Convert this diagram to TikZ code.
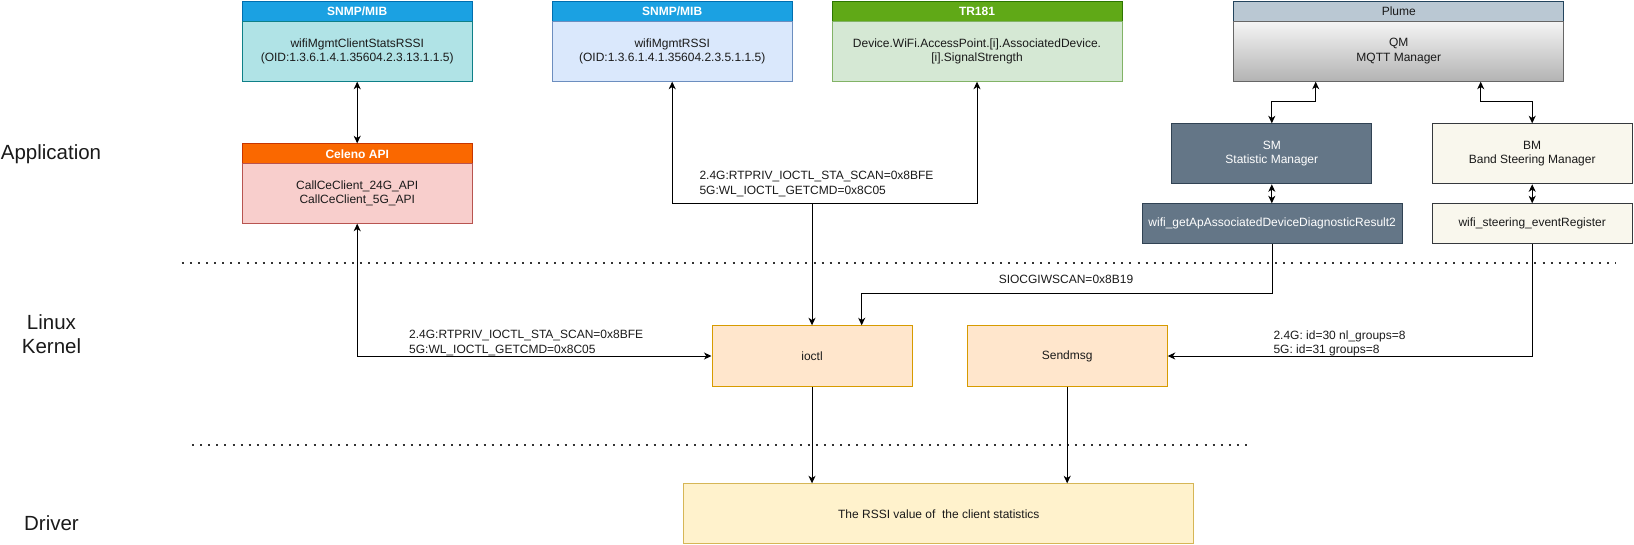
\documentclass[tikz,border=0pt]{standalone}
\usepackage{fontspec}
\setmainfont{Liberation Sans}
\usetikzlibrary{arrows.meta}
\definecolor{hBlueF}{HTML}{1BA1E2}\definecolor{hBlueD}{HTML}{006EAF}
\definecolor{tealF}{HTML}{B0E3E6}\definecolor{tealD}{HTML}{0E8088}
\definecolor{lblueF}{HTML}{DAE8FC}\definecolor{lblueD}{HTML}{6C8EBF}
\definecolor{hGreenF}{HTML}{60A917}\definecolor{hGreenD}{HTML}{2D7600}
\definecolor{lgreenF}{HTML}{D5E8D4}\definecolor{lgreenD}{HTML}{82B366}
\definecolor{plumeF}{HTML}{BAC8D3}\definecolor{plumeD}{HTML}{23445D}
\definecolor{qmTop}{HTML}{F5F5F5}\definecolor{qmBot}{HTML}{B3B3B3}\definecolor{qmD}{HTML}{666666}
\definecolor{hOrF}{HTML}{FA6800}\definecolor{hOrD}{HTML}{C73500}
\definecolor{redF}{HTML}{F8CECC}\definecolor{redD}{HTML}{B85450}
\definecolor{smF}{HTML}{647687}\definecolor{smD}{HTML}{314354}
\definecolor{bmF}{HTML}{F9F7ED}\definecolor{bmD}{HTML}{36393D}
\definecolor{ioF}{HTML}{FFE6CC}\definecolor{ioD}{HTML}{D79B00}
\definecolor{rsF}{HTML}{FFF2CC}\definecolor{rsD}{HTML}{D6B656}
\definecolor{txt}{HTML}{1A1A1A}
\newcommand\fsm{\fontsize{12}{14.4}\selectfont}
\newcommand\flg{\fontsize{20.5}{24.6}\selectfont}
\tikzset{
  box/.style={draw, line width=1pt, inner sep=0pt, anchor=north west, align=center, font=\fsm, text=txt},
  hdr/.style={box, text=white, font=\fsm\bfseries},
  lbl/.style={inner sep=0pt, align=left, font=\fsm, text=txt},
  layer/.style={inner sep=0pt, align=center, font=\flg, text=txt},
  conn/.style={line width=1pt, draw=black},
  arr/.style={conn, -{Stealth[length=7.5pt,width=7pt,inset=2.2pt]}},
  darr/.style={conn, {Stealth[length=7.5pt,width=7pt,inset=2.2pt]}-{Stealth[length=7.5pt,width=7pt,inset=2.2pt]}},
  dotline/.style={line width=2pt, draw=black!80, dash pattern=on 2pt off 6.1pt}
}
\begin{document}
\begin{tikzpicture}[x=1pt,y=-1pt]
\useasboundingbox (0,0) rectangle (1634,544);
% layer labels
\node[layer] (app) at (51,154) {Application};
\node[layer] (lk) at (51.5,334) {Linux\\Kernel};
\node[layer] (drv) at (51.5,522.7) {Driver};
% separators
\draw[dotline] (181.7,263.3) -- (1616,263.3);
\draw[dotline] (192,445) -- (1250,445);
% SNMP/MIB 1
\node[hdr, fill=hBlueF, draw=hBlueD, minimum width=230pt, minimum height=20.2pt] (h1) at (241.7,0.5) {SNMP/MIB};
\node[box, fill=tealF, draw=tealD, minimum width=230pt, minimum height=60pt] (b1) at (241.7,20.7) {wifiMgmtClientStatsRSSI\\(OID:1.3.6.1.4.1.35604.2.3.13.1.1.5)};
% SNMP/MIB 2
\node[hdr, fill=hBlueF, draw=hBlueD, minimum width=240pt, minimum height=20.2pt] (h2) at (551.7,0.5) {SNMP/MIB};
\node[box, fill=lblueF, draw=lblueD, minimum width=240pt, minimum height=60pt] (b2) at (551.7,20.7) {wifiMgmtRSSI\\(OID:1.3.6.1.4.1.35604.2.3.5.1.1.5)};
% TR181
\node[hdr, fill=hGreenF, draw=hGreenD, minimum width=290pt, minimum height=20.2pt] (h3) at (831.5,0.5) {TR181};
\node[box, fill=lgreenF, draw=lgreenD, minimum width=290pt, minimum height=60pt] (tr) at (831.5,20.7) {Device.WiFi.AccessPoint.[i].AssociatedDevice.\\{}[i].SignalStrength};
% Plume / QM
\node[box, fill=plumeF, draw=plumeD, minimum width=330pt, minimum height=20.2pt] (h4) at (1233.3,0.5) {Plume};
\node[box, top color=qmTop, bottom color=qmBot, draw=qmD, minimum width=330pt, minimum height=60pt] (qm) at (1233.3,20.7) {QM\\MQTT Manager};
% Celeno
\node[hdr, fill=hOrF, draw=hOrD, minimum width=230pt, minimum height=20pt] (h5) at (241.7,143.3) {Celeno API};
\node[box, fill=redF, draw=redD, minimum width=230pt, minimum height=59.4pt] (cel) at (241.7,163.3) {CallCeClient\_24G\_API\\CallCeClient\_5G\_API};
% SM / BM
\node[box, fill=smF, draw=smD, text=white, minimum width=200pt, minimum height=60pt] (sm) at (1171.3,123.3) {SM\\Statistic Manager};
\node[box, fill=smF, draw=smD, text=white, minimum width=260pt, minimum height=40pt] (wg) at (1141.7,203.3) {wifi\_getApAssociatedDeviceDiagnosticResult2};
\node[box, fill=bmF, draw=bmD, minimum width=200pt, minimum height=60pt] (bm) at (1431.7,123.3) {BM\\Band Steering Manager};
\node[box, fill=bmF, draw=bmD, minimum width=200pt, minimum height=40pt] (ws) at (1431.7,203.3) {wifi\_steering\_eventRegister};
% kernel
\node[box, fill=ioF, draw=ioD, minimum width=200pt, minimum height=60.4pt] (io) at (711.5,325.3) {ioctl};
\node[box, fill=ioF, draw=ioD, minimum width=200pt, minimum height=60.4pt] (sd) at (966.7,325.3) {Sendmsg};
% driver
\node[box, fill=rsF, draw=rsD, minimum width=510pt, minimum height=60pt] (rs) at (683.3,483.3) {The RSSI value of~ the client statistics};
% connectors
\draw[darr] (b1.south) -- (h5.north);
\draw[darr] (cel.south) |- (io.west);
\node[lbl, anchor=west] (l1) at (409,342.8) {2.4G:RTPRIV\_IOCTL\_STA\_SCAN=0x8BFE\\5G:WL\_IOCTL\_GETCMD=0x8C05};
\coordinate (j1) at (io.north |- 0,203.3);
\draw[arr] (j1) -| (b2.south);
\draw[arr] (j1) -| (tr.south);
\draw[arr] (j1) -- (io.north);
\node[lbl, anchor=west] (l2) at (699.3,184) {2.4G:RTPRIV\_IOCTL\_STA\_SCAN=0x8BFE\\5G:WL\_IOCTL\_GETCMD=0x8C05};
\coordinate (c2) at (861.7,293);
\draw[arr] (wg.south) |- (c2) -- (c2 |- io.north);
\node[lbl] (l3) at (1066,279) {SIOCGIWSCAN=0x8B19};
\draw[arr] (ws.south) |- (sd.east);
\node[lbl, anchor=west] (l4) at (1273.3,343.3) {2.4G: id=30 nl\_groups=8\\5G: id=31 groups=8};
\draw[arr] (io.south) -- (io.south |- rs.north);
\draw[arr] (sd.south) -- (sd.south |- rs.north);
\coordinate (p1) at (1315.7,101.7);
\coordinate (p2) at (1480.7,101.7);
\draw[darr] (qm.south -| p1) -- (p1) -| (sm.north);
\draw[darr] (qm.south -| p2) -- (p2) -| (bm.north);
\draw[darr] (sm.south) -- (sm.south |- wg.north);
\draw[darr] (bm.south) -- (bm.south |- ws.north);
\end{tikzpicture}
\end{document}
